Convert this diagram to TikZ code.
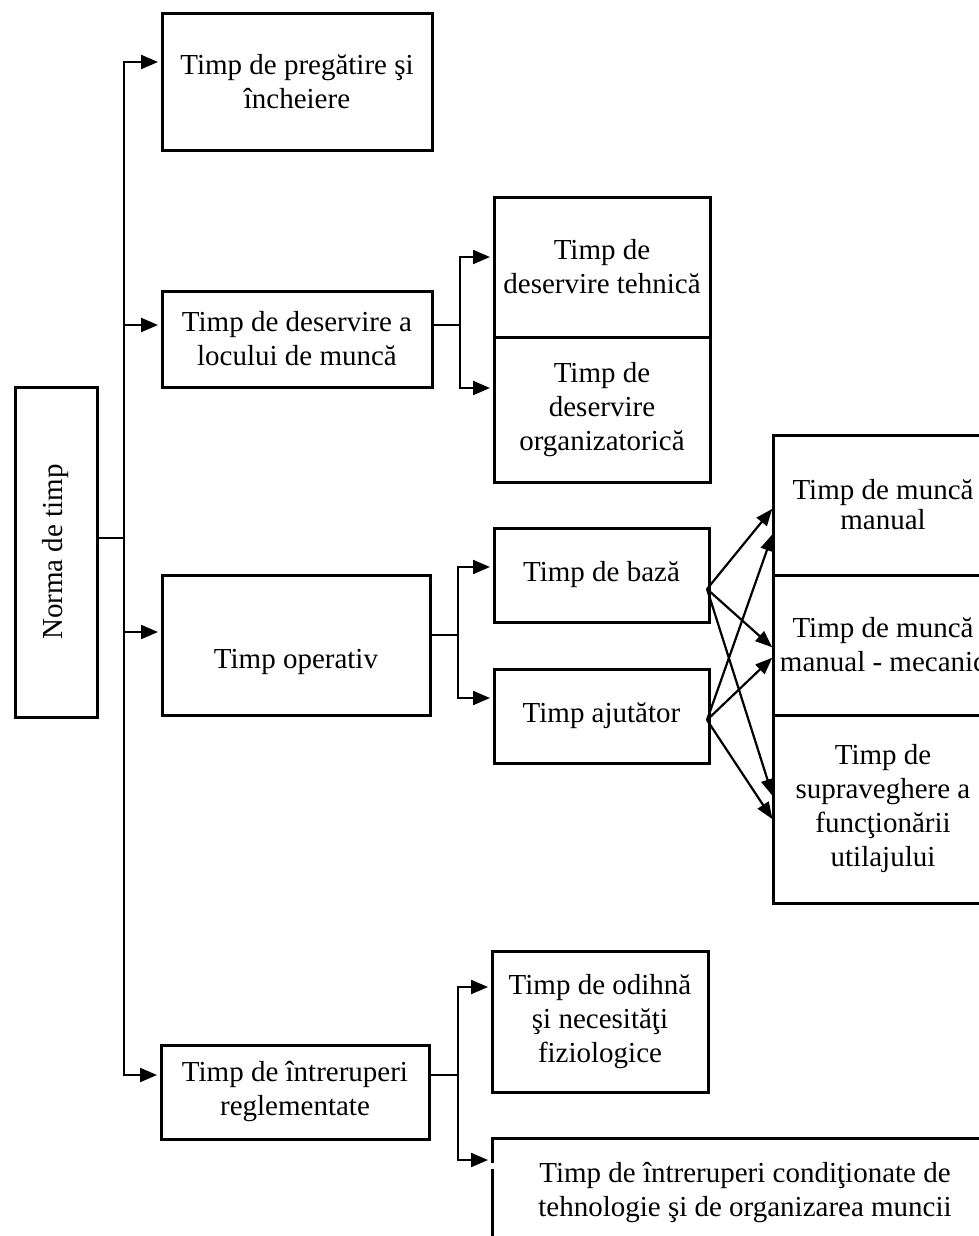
\documentclass[tikz,border=0pt]{standalone}
\usepackage{fontspec}
\setmainfont{Liberation Serif}
\usetikzlibrary{arrows.meta}
\newcommand\dfont{\fontsize{29}{34}\selectfont}
\begin{document}
\begin{tikzpicture}[x=1pt,y=-1pt,
  bx/.style={draw, line width=3pt, inner sep=0pt, outer sep=0pt, align=center, font=\dfont},
  txt/.style={inner sep=0pt, align=center, font=\dfont},
  ln/.style={line width=2.2pt},
  arr/.style={ln, -{Triangle[length=17pt,width=14pt]}, shorten >=4pt},
  xarr/.style={ln, -{Triangle[length=17pt,width=13pt]}, shorten >=1pt}]
\clip (0,0) rectangle (979,1236);
\fill[white] (0,0) rectangle (979,1236);

% boxes
\node[bx, minimum width=82pt, minimum height=330pt] (norma) at (56,552) {\rotatebox{90}{Norma de timp}};
\node[bx, minimum width=270pt, minimum height=136pt] (prep) at (297,82) {Timp de pregătire şi\\încheiere};
\node[bx, minimum width=270pt, minimum height=96pt] (desloc) at (297,339) {Timp de deservire a\\locului de muncă};
\node[bx, minimum width=268pt, minimum height=140pt] (oper) at (296,645) {};
\node[txt] (opertxt) at (296,662) {Timp operativ};
\node[bx, minimum width=268pt, minimum height=94pt] (intrer) at (295,1092) {Timp de întreruperi\\reglementate};
\node[bx, minimum width=216pt, minimum height=140pt] (tehn) at (602,267) {Timp de\\deservire tehnică};
\node[bx, minimum width=216pt, minimum height=145pt] (org) at (602,409.5) {Timp de\\deservire\\organizatorică};
\node[bx, minimum width=215pt, minimum height=94pt] (baza) at (601.5,575) {Timp de bază};
\node[bx, minimum width=215pt, minimum height=94pt] (ajut) at (601.5,716) {Timp ajutător};
\node[bx, minimum width=220pt, minimum height=140pt] (man) at (883,505) {Timp de muncă\\[-4pt]manual};
\node[bx, minimum width=220pt, minimum height=140pt] (mec) at (883,645) {Timp de muncă\\manual - mecanic};
\node[bx, minimum width=220pt, minimum height=188pt] (sup) at (883,809) {Timp de\\supraveghere a\\funcţionării\\utilajului};
\node[bx, minimum width=216pt, minimum height=141pt] (odihna) at (600,1021.5) {Timp de odihnă\\şi necesităţi\\fiziologice};
\node[txt] (cond) at (745,1193) {Timp de întreruperi condiţionate de\\tehnologie şi de organizarea muncii};

% open box around the last text
\coordinate (cTL) at (492,1138);
\coordinate (cIn) at (492,1160);
\draw[line width=3pt] (492,1163) -- (cTL) -- (995,1138);
\draw[line width=3pt] (492,1169) -- (492,1240);

% trunk
\coordinate (trunkN) at (124,538);
\coordinate (tTop) at (124,62);
\coordinate (tDes) at (124,325);
\coordinate (tOp) at (124,632);
\coordinate (tBot) at (124,1075);
\draw[ln] (norma.east |- trunkN) -- (trunkN);
\draw[arr] (trunkN) |- (prep.west |- tTop);
\draw[arr] (trunkN) |- (intrer.west |- tBot);
\draw[arr] (tDes) -- (desloc.west |- tDes);
\draw[arr] (tOp) -- (oper.west |- tOp);

% deservire branch
\coordinate (dJ) at (460,325);
\coordinate (dT) at (460,257);
\coordinate (dB) at (460,388);
\draw[ln] (desloc.east |- dJ) -- (dJ);
\draw[arr] (dJ) |- (tehn.west |- dT);
\draw[arr] (dJ) |- (org.west |- dB);

% operativ branch
\coordinate (oJ) at (458,635);
\coordinate (oT) at (458,567);
\coordinate (oB) at (458,698);
\draw[ln] (oper.east |- oJ) -- (oJ);
\draw[arr] (oJ) |- (baza.west |- oT);
\draw[arr] (oJ) |- (ajut.west |- oB);

% crossing arrows
\coordinate (bOut) at (707,589);
\coordinate (aOut) at (707,720);
\coordinate (y1) at (0,508);
\coordinate (y2) at (0,533);
\coordinate (y3) at (0,648);
\coordinate (y4) at (0,657);
\coordinate (y5) at (0,797);
\coordinate (y6) at (0,820);
\draw[xarr] (bOut) -- (man.west |- y1);
\draw[xarr] (bOut) -- (mec.west |- y3);
\draw[xarr] (bOut) -- (sup.west |- y5);
\draw[xarr] (aOut) -- (man.west |- y2);
\draw[xarr] (aOut) -- (mec.west |- y4);
\draw[xarr] (aOut) -- (sup.west |- y6);

% intreruperi branch
\coordinate (iJ) at (458,1075);
\coordinate (iT) at (458,987);
\draw[ln] (intrer.east |- iJ) -- (iJ);
\draw[arr] (iJ) |- (odihna.west |- iT);
\draw[arr] (iJ) |- (cIn);
\end{tikzpicture}
\end{document}
